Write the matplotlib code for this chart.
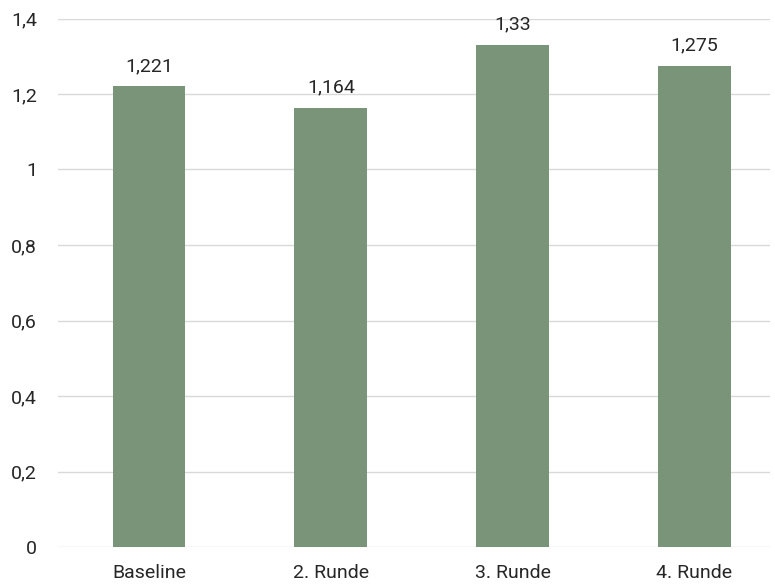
import matplotlib
matplotlib.use("Agg")
import matplotlib.pyplot as plt
from matplotlib.ticker import FuncFormatter, MultipleLocator

plt.rcParams.update({
    "font.family": ["Roboto", "DejaVu Sans"],
    "font.size": 14,
})

CATEGORIES = ["Baseline", "2. Runde", "3. Runde", "4. Runde"]
VALUES = [1.221, 1.164, 1.33, 1.275]
LABELS = ["1,221", "1,164", "1,33", "1,275"]

BAR = "#7A9479"
GRID = "#D9D9D9"
TEXT = "#262626"


def comma(v, _pos=None):
    return f"{v:g}".replace(".", ",")


def main():
    fig = plt.figure(figsize=(7.75, 5.87), dpi=100)
    ax = fig.add_axes([58 / 775, 40 / 587, 712 / 775, 528.5 / 587])

    x = list(range(len(CATEGORIES)))
    bars = ax.bar(x, VALUES, width=0.40, color=BAR, zorder=3)

    for rect, lab in zip(bars, LABELS):
        ax.annotate(lab, xy=(rect.get_x() + rect.get_width() / 2, rect.get_height()),
                    xytext=(0, 8), textcoords="offset points",
                    ha="center", va="bottom", fontsize=14, color=TEXT)

    ax.set_ylim(0, 1.4)
    ax.set_xlim(-0.5, 3.415)
    ax.yaxis.set_major_locator(MultipleLocator(0.2))
    ax.yaxis.set_major_formatter(FuncFormatter(comma))
    ax.set_xticks(x)
    ax.set_xticklabels(CATEGORIES)

    ax.grid(axis="y", color=GRID, linewidth=1.0, zorder=0)
    for s in ax.spines.values():
        s.set_visible(False)
    ax.tick_params(axis="both", length=0, labelsize=14, colors=TEXT)
    ax.tick_params(axis="y", pad=15)
    ax.tick_params(axis="x", pad=12)

    fig.savefig("out.png", dpi=100, facecolor="white")
    plt.close(fig)


if __name__ == "__main__":
    main()
